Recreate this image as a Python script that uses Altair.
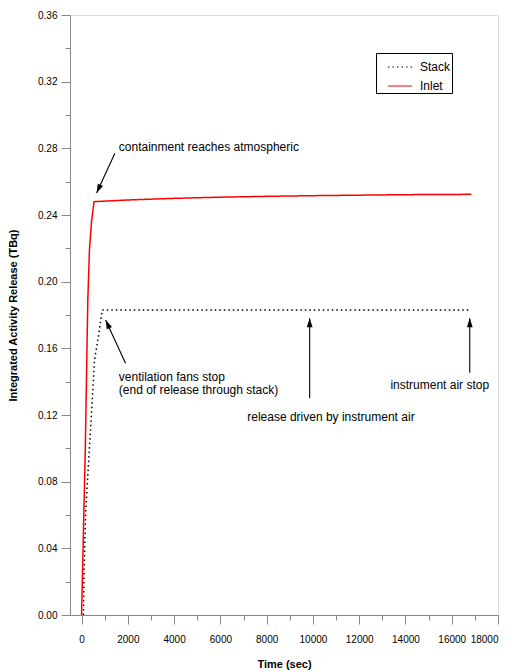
import altair as alt
import pandas as pd

# Integrated activity release curves (time in s, release in TBq)
inlet_time = [0, 160, 270, 340, 430, 540, 2000, 4000, 6000, 8000, 10000, 12000, 14000, 16850]
inlet_release = [0.0, 0.099, 0.189, 0.219, 0.236, 0.248, 0.2490, 0.2500, 0.2507, 0.2512,
                 0.2516, 0.2519, 0.2522, 0.2524]
stack_time = [80, 100, 175, 420, 560, 750, 890, 16770]
stack_release = [0.0, 0.021, 0.061, 0.119, 0.153, 0.169, 0.183, 0.183]

series_names = ["Stack", "Inlet"]
series_colors = ["#000000", "#ff0000"]
series_dashes = [[1.5, 3], [1, 0]]

# Annotation arrows (tail -> tip) and their labels
arrow_tail_time = [1440, 1900, 9860, 16780]
arrow_tail_release = [0.277, 0.151, 0.130, 0.1454]
arrow_tip_time = [650, 1040, 9860, 16780]
arrow_tip_release = [0.2532, 0.177, 0.178, 0.178]
arrow_angle = [205, 335, 0, 0]

note_text = ["containment reaches atmospheric", "ventilation fans stop",
             "(end of release through stack)", "release driven by instrument air",
             "instrument air stop"]
note_time = [1610, 1610, 1610, 7160, 13350]
note_release = [0.281, 0.143, 0.135, 0.1186, 0.138]

x_major_ticks = list(range(0, 18001, 2000))
x_minor_ticks = list(range(1000, 18000, 2000))
y_major_ticks = [round(i * 0.04, 2) for i in range(10)]
y_minor_ticks = [round(0.02 + i * 0.04, 2) for i in range(9)]

curves = pd.DataFrame({
    "time": stack_time + inlet_time,
    "release": stack_release + inlet_release,
    "series": ["Stack"] * len(stack_time) + ["Inlet"] * len(inlet_time),
    "order": list(range(len(stack_time))) + list(range(len(inlet_time))),
})
arrows = pd.DataFrame({
    "t0": arrow_tail_time, "r0": arrow_tail_release,
    "t1": arrow_tip_time, "r1": arrow_tip_release, "angle": arrow_angle,
})
notes = pd.DataFrame({"time": note_time, "release": note_release, "text": note_text})

x_scale = alt.Scale(domain=[-500, 18000], nice=False, zero=False)
y_scale = alt.Scale(domain=[0, 0.36], nice=False)

x_axis = alt.Axis(
    values=x_major_ticks, title="Time (sec)", grid=False, orient="bottom",
    format="d", tickSize=9, labelPadding=10, titlePadding=14,
)
y_axis = alt.Axis(
    values=y_major_ticks, title="Integrated Activity Release (TBq)", grid=False, orient="left",
    format=".2f", tickSize=9, labelPadding=4, titlePadding=19,
)
x_minor_axis = alt.Axis(
    values=x_minor_ticks, title=None, grid=False, orient="bottom",
    labels=False, domain=False, tickSize=5,
)
y_minor_axis = alt.Axis(
    values=y_minor_ticks, title=None, grid=False, orient="left",
    labels=False, domain=False, tickSize=5,
)

legend = alt.Legend(
    title=None, orient="none", legendX=306, legendY=38,
    symbolType="stroke", symbolSize=576, symbolStrokeWidth=1.2, symbolOffset=10,
    labelOffset=7, labelExpr="datum.label + '   '",
    strokeColor="black", fillColor="white", padding=1,
    labelFontSize=12, labelFont="Liberation Sans", rowPadding=-11,
)

lines = alt.Chart(curves).mark_line(strokeWidth=1.5, strokeCap="butt").encode(
    x=alt.X("time:Q", scale=x_scale, axis=x_axis),
    y=alt.Y("release:Q", scale=y_scale, axis=y_axis),
    stroke=alt.Stroke("series:N", scale=alt.Scale(domain=series_names, range=series_colors), legend=legend),
    strokeDash=alt.StrokeDash("series:N", scale=alt.Scale(domain=series_names, range=series_dashes), legend=legend),
    order="order:Q",
)

# invisible layer carrying the minor tick axes
minor = alt.Chart(curves).mark_point(opacity=0).encode(
    x=alt.X("time:Q", scale=x_scale, axis=x_minor_axis),
    y=alt.Y("release:Q", scale=y_scale, axis=y_minor_axis),
)

shafts = alt.Chart(arrows).mark_rule(color="black", strokeWidth=1.1).encode(
    x=alt.X("t0:Q", scale=x_scale, axis=None), y=alt.Y("r0:Q", scale=y_scale, axis=None),
    x2="t1:Q", y2="r1:Q",
)

heads = alt.Chart(arrows).mark_point(
    shape="M0,0L-0.32,1L0.32,1Z", filled=True, color="black", opacity=1, size=324,
).encode(
    x=alt.X("t1:Q", scale=x_scale, axis=None), y=alt.Y("r1:Q", scale=y_scale, axis=None),
    angle=alt.Angle("angle:Q", scale=None),
)

labels = alt.Chart(notes).mark_text(
    align="left", baseline="middle", fontSize=12, font="Liberation Sans", color="black",
).encode(
    x=alt.X("time:Q", scale=x_scale, axis=None), y=alt.Y("release:Q", scale=y_scale, axis=None),
    text="text:N",
)

chart = alt.layer(lines, minor, shafts, heads, labels).resolve_axis(
    x="independent", y="independent",
).properties(
    width=428, height=600,
    padding={"left": 70, "top": 15, "right": 19, "bottom": 57},
    autosize="none",
).configure_view(
    stroke="black", strokeWidth=1.5,
).configure_axis(
    domainColor="black", domainWidth=1.5, tickColor="black", tickWidth=1.5,
    labelFont="Liberation Sans", labelFontSize=12, labelColor="black",
    titleFont="Liberation Sans", titleFontSize=12, titleFontWeight="bold", titleColor="black",
).configure(background="white")

chart.save("out.html", embed_options={"renderer": "svg", "actions": False})
